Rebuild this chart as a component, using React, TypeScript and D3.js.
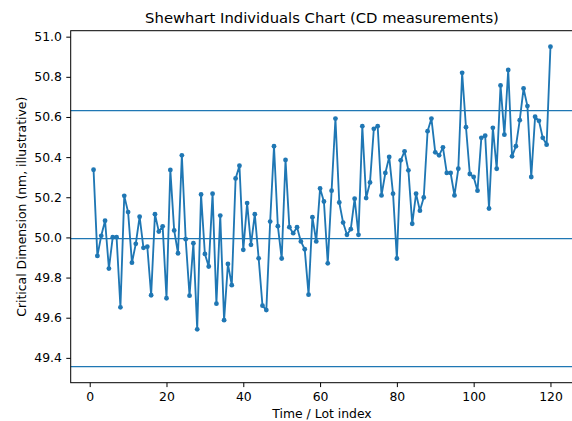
import React, { useEffect, useRef } from "react";
import * as d3 from "d3";

const measurements: number[] = [
  50.337, 49.908, 50.008, 50.083, 49.845, 50.001, 50.001, 49.652, 50.207, 50.126,
  49.874, 49.968, 50.103, 49.948, 49.954, 49.712, 50.116, 50.029, 50.055, 49.697,
  50.336, 50.035, 49.921, 50.409, 49.991, 49.71, 49.971, 49.542, 50.214, 49.918,
  49.855, 50.218, 49.67, 50.109, 49.588, 49.868, 49.762, 50.294, 50.357, 49.938,
  50.171, 49.963, 50.116, 49.896, 49.66, 49.638, 50.079, 50.454, 50.056, 49.895,
  50.386, 50.051, 50.021, 50.051, 49.98, 49.941, 49.715, 50.101, 49.98, 50.244,
  50.179, 49.871, 50.233, 50.592, 50.174, 50.074, 50.013, 50.041, 50.193, 50.013,
  50.554, 50.196, 50.274, 50.541, 50.554, 50.209, 50.321, 50.401, 50.218, 49.895,
  50.384, 50.429, 50.334, 50.068, 50.218, 50.133, 50.199, 50.529, 50.592, 50.424,
  50.409, 50.449, 50.321, 50.321, 50.209, 50.342, 50.82, 50.549, 50.316, 50.301,
  50.233, 50.496, 50.507, 50.144, 50.546, 50.342, 50.757, 50.512, 50.834, 50.404,
  50.454, 50.584, 50.742, 50.654, 50.301, 50.601, 50.581, 50.496, 50.462, 50.95,
];

// control limits: UCL, center line, LCL
const limits: number[] = [50.631, 49.994, 49.356];

const xTicks: number[] = [0, 20, 40, 60, 80, 100, 120];
const yTicks: number[] = [49.4, 49.6, 49.8, 50.0, 50.2, 50.4, 50.6, 50.8, 51.0];

const title = "Shewhart Individuals Chart (CD measurements)";
const xLabel = "Time / Lot index";
const yLabel = "Critical Dimension (nm, illustrative)";

const App = () => {
  const svgRef = useRef<SVGSVGElement | null>(null);

  useEffect(() => {
    drawChart();
  }, []);

  const drawChart = () => {
    const svg = d3.select(svgRef.current);
    svg.selectAll("*").remove();

    const width = 572;
    const height = 421;
    const margin = { top: 30.7, right: -1.3, bottom: 38.3, left: 70.7 };
    const font = "DejaVu Sans, sans-serif";
    const blue = "#1f77b4";
    const tickFont = "12.4px";

    const data = measurements.map((v, i) => ({ lot: i + 1, value: v }));

    // matplotlib-like autoscale (5% margins, limit lines included)
    const xPad = (data.length - 1) * 0.05;
    const xScale = d3
      .scaleLinear()
      .domain([1 - xPad, data.length + xPad])
      .range([margin.left, width - margin.right]);

    const yMin = Math.min(d3.min(measurements) as number, d3.min(limits) as number);
    const yMax = Math.max(d3.max(measurements) as number, d3.max(limits) as number);
    const yPad = (yMax - yMin) * 0.05;
    const yScale = d3
      .scaleLinear()
      .domain([yMin - yPad, yMax + yPad])
      .range([height - margin.bottom, margin.top]);

    svg.append("rect").attr("width", width).attr("height", height).attr("fill", "white");

    // Control limit lines
    svg
      .append("g")
      .selectAll("line")
      .data(limits)
      .join("line")
      .attr("x1", margin.left)
      .attr("x2", width - margin.right)
      .attr("y1", (d) => yScale(d))
      .attr("y2", (d) => yScale(d))
      .attr("stroke", blue)
      .attr("stroke-width", 1.25);

    // Series line + markers
    const line = d3
      .line<{ lot: number; value: number }>()
      .x((d) => xScale(d.lot))
      .y((d) => yScale(d.value));

    svg
      .append("path")
      .datum(data)
      .attr("fill", "none")
      .attr("stroke", blue)
      .attr("stroke-width", 1.85)
      .attr("stroke-linejoin", "round")
      .attr("d", line);

    svg
      .append("g")
      .selectAll("circle")
      .data(data)
      .join("circle")
      .attr("cx", (d) => xScale(d.lot))
      .attr("cy", (d) => yScale(d.value))
      .attr("r", 2.4)
      .attr("fill", blue);

    // Axes
    const xAxis = d3
      .axisBottom(xScale)
      .tickValues(xTicks)
      .tickSize(4.4)
      .tickPadding(4.4)
      .tickFormat(d3.format("d"));
    const yAxis = d3
      .axisLeft(yScale)
      .tickValues(yTicks)
      .tickSize(4.4)
      .tickPadding(4.4)
      .tickFormat(d3.format(".1f"));

    const gx = svg
      .append("g")
      .attr("transform", `translate(0,${height - margin.bottom})`)
      .call(xAxis);
    const gy = svg
      .append("g")
      .attr("transform", `translate(${margin.left},0)`)
      .call(yAxis);

    [gx, gy].forEach((g) => {
      g.select(".domain").remove();
      g.selectAll("line").attr("stroke", "#000").attr("stroke-width", 1);
      g.selectAll("text")
        .attr("fill", "#000")
        .style("font-family", font)
        .style("font-size", tickFont);
    });
    // baseline like matplotlib's top-aligned tick labels
    gx.selectAll("text").attr("dy", null).attr("y", 18.3);

    // Spines
    svg
      .append("rect")
      .attr("x", margin.left)
      .attr("y", margin.top)
      .attr("width", width - margin.right - margin.left)
      .attr("height", height - margin.bottom - margin.top)
      .attr("fill", "none")
      .attr("stroke", "#000")
      .attr("stroke-width", 1);

    // Titles
    svg
      .append("text")
      .attr("x", (margin.left + width - margin.right) / 2)
      .attr("y", 23.3)
      .attr("text-anchor", "middle")
      .style("font-family", font)
      .style("font-size", "14.8px")
      .text(title);

    svg
      .append("text")
      .attr("x", (margin.left + width - margin.right) / 2)
      .attr("y", 418)
      .attr("text-anchor", "middle")
      .style("font-family", font)
      .style("font-size", tickFont)
      .text(xLabel);

    svg
      .append("text")
      .attr(
        "transform",
        `translate(25.5,${(margin.top + height - margin.bottom) / 2}) rotate(-90)`
      )
      .attr("text-anchor", "middle")
      .style("font-family", font)
      .style("font-size", tickFont)
      .text(yLabel);
  };

  return (
    <div style={{ position: "absolute", left: 0, top: 0 }}>
      <svg ref={svgRef} width="572" height="421" style={{ display: "block" }}></svg>
    </div>
  );
};

export default App;
